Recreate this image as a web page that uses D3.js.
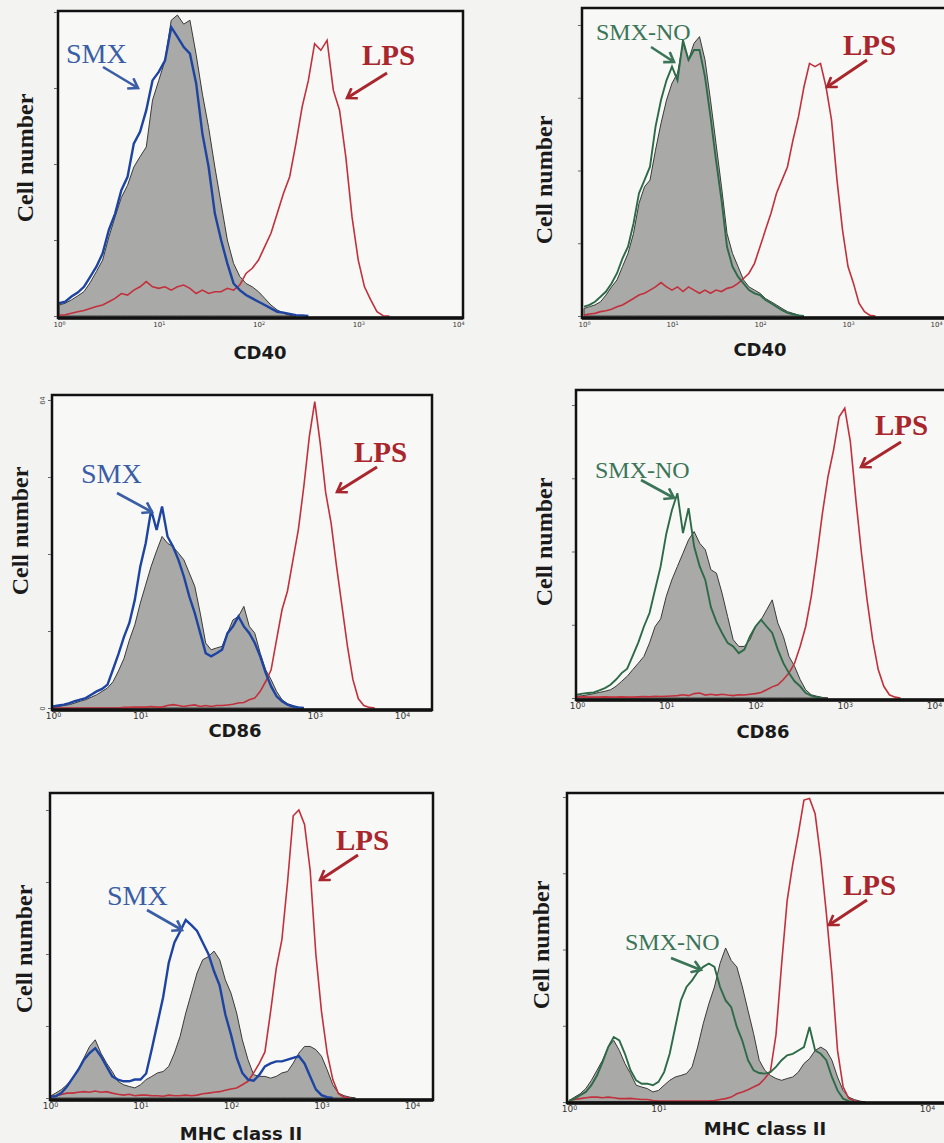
<!DOCTYPE html>
<html>
<head>
<meta charset="utf-8">
<script src="https://cdn.jsdelivr.net/npm/d3@7"></script>
<style>
    body { margin: 0; background: #f3f3f1; }
    svg { display: block; }
</style>
</head>
<body>
<svg id="chart" width="944" height="1143"></svg>
<script>
// flow cytometry histograms, 16 channels per decade starting at 10^0
// values are % of the panel's full scale
const binsPerDecade = 16;
const allTicks = [1, 10, 100, 1000, 10000];

// CD40 - SMX experiment
const cd40Control = [3.6, 4.2, 5.3, 6.6, 8, 11, 14.6, 18.4, 26, 32.6, 39, 43, 49, 52.4, 55.6, 71, 77.5, 84, 97.3, 99, 96, 97.3, 86, 73, 62, 49, 37, 25, 17.3, 13, 10.7, 9.6, 8, 5.8, 3.6, 2, 0.9, 0.2, 0];
const cd40Smx = [4.2, 4.7, 6.4, 7.7, 9.6, 12.9, 16.2, 20.6, 28.3, 33.7, 41.4, 45.8, 56.7, 60.6, 67.7, 77.5, 80.3, 84, 95, 91.8, 88.5, 86.3, 76.5, 60, 49, 33.7, 25, 17.3, 10.7, 8.5, 6.9, 5.8, 4.7, 3.6, 2.5, 1.4, 1.1, 0.7, 0.3, 0.2, 0];
const cd40Lps = [0.3, 0.4, 0.9, 1.4, 1.8, 2.5, 3.1, 3.6, 4.7, 5.8, 7.4, 6.9, 8.5, 9.6, 11.3, 9.6, 9.1, 9.6, 8.5, 9.6, 10.2, 9.1, 7.4, 8.5, 7.4, 8, 8, 9.1, 8.5, 10.2, 14, 15.7, 18.4, 22.8, 27.2, 33.7, 40.3, 45.8, 56.7, 68.8, 77.5, 89.6, 87.4, 90.7, 74.3, 67.7, 52.4, 32.6, 18.4, 9.6, 5.3, 1.4, 0.1, 0];

// CD40 - SMX-NO experiment
const cd40ControlNo = [2.6, 3.2, 3.8, 4.9, 7.2, 10, 12.4, 17, 21.5, 28.4, 38.7, 44.4, 46.7, 57, 66.2, 74.2, 80, 83.4, 93.7, 88, 93.7, 96, 88, 74.2, 59.3, 44.4, 28.4, 21.5, 17, 12.4, 10, 8.9, 7.8, 6, 4.9, 3.8, 2.6, 1.5, 0.9, 0.3, 0];
const cd40SmxNo = [3.2, 3.8, 4.9, 6.6, 8.4, 11.2, 14.7, 19.8, 23.8, 31.8, 42.2, 46.7, 51.3, 65, 74.2, 81, 85.7, 81, 94.8, 88, 91.4, 91.4, 82.2, 68.5, 53.6, 39.9, 23.8, 17, 13.5, 11.2, 8.9, 7.8, 7.2, 5.5, 4.4, 3.2, 2, 1.1, 0.6, 0.2, 0];
const cd40LpsNo = [0.3, 0.7, 0.9, 1.5, 1.8, 2.3, 3.2, 3.8, 4.9, 6, 7.2, 7.8, 8.9, 10, 11.5, 10, 8.9, 10, 8.4, 10, 8.9, 7.8, 8.9, 7.8, 8.9, 8.4, 9.5, 10, 11.2, 12.9, 14.7, 18.1, 23.8, 29.6, 35.3, 42.2, 46.7, 51.3, 60.5, 68.5, 78.8, 86.8, 85.7, 86.8, 78.8, 67.4, 46.7, 29.6, 17, 11.2, 4.4, 1.5, 0.2, 0];

// CD86 - SMX experiment
const cd86Control = [0.3, 0.5, 0.8, 1.1, 1.6, 2.2, 2.7, 3.5, 4.3, 5.4, 6.5, 8.5, 12, 16, 22, 27, 34, 40, 46, 51, 55.7, 53.5, 52.4, 50.3, 48.1, 43.8, 39.5, 30.8, 21.1, 18.9, 19.5, 20, 24.3, 28.6, 29.7, 33, 26.5, 24.3, 17.8, 12.4, 9.2, 5.4, 2.7, 1.4, 0.8, 0.2, 0];
const cd86Smx = [0.5, 0.8, 1.1, 1.6, 2.2, 2.7, 3.2, 4.3, 5.4, 6.2, 7.6, 12.5, 17.5, 23, 27.6, 35.1, 45.9, 53.5, 64.3, 57.8, 65.4, 55.7, 52.4, 48.1, 42.7, 36.2, 30.8, 24.3, 17.8, 16.8, 17.8, 18.9, 24.3, 26.5, 29.7, 26.5, 24.3, 21.1, 16.8, 11.4, 7, 3.8, 2.2, 1.1, 0.5, 0.2, 0];
const cd86Lps = [0, 0, 0, 0, 0, 0, 0, 0, 0, 0, 0, 0, 0, 0.2, 0.2, 0.3, 0.3, 0.3, 0.5, 0.3, 0.3, 0.8, 1.1, 0.8, 0.5, 0.8, 1, 0.5, 0.8, 0.5, 0.8, 0.8, 1, 1.2, 1.6, 1.8, 2.7, 3.2, 5.4, 8.6, 12.4, 22.2, 31.9, 38, 48, 58, 72, 88, 99.5, 86, 70, 60, 46, 33, 20, 9.2, 3, 0.8, 0.2, 0];

// CD86 - SMX-NO experiment
const cd86ControlNo = [0.6, 0.8, 1.1, 1.5, 1.9, 2.3, 2.8, 4, 5.7, 7.4, 9.7, 11.9, 14.2, 18.8, 24.4, 27, 34.7, 40.3, 44.9, 49.4, 54, 56.8, 52.8, 50.6, 43.8, 42.6, 35.8, 27.8, 19.9, 17.6, 17.6, 19.9, 24.4, 26.7, 30.1, 33.5, 25.6, 21, 14.2, 10.8, 6.3, 2.8, 1.1, 0.6, 0.2, 0];
const cd86SmxNo = [1.1, 1.5, 1.7, 1.9, 2.6, 3.4, 4.5, 6.3, 8.5, 10, 14.5, 19, 24.4, 29, 37, 45, 56, 64, 69.9, 56.3, 64.8, 51.7, 44.9, 40.3, 31, 26, 22.2, 18.8, 17.6, 15.3, 16.5, 21, 24.4, 26.7, 24.4, 22.2, 16.5, 11.9, 8.5, 5.7, 4, 1.7, 0.8, 0.2, 0];
const cd86LpsNo = [0.4, 0.4, 0.3, 0.3, 0.3, 0.4, 0.3, 0.3, 0.4, 0.3, 0.3, 0.4, 0.5, 0.4, 0.6, 0.5, 0.6, 0.7, 0.8, 1.1, 0.8, 1.5, 1.7, 1, 1.3, 1, 1.3, 1, 0.8, 1.1, 1, 1.3, 1.5, 1.9, 2.8, 3.8, 4.5, 6.3, 8.5, 11.9, 17.6, 24.4, 34.7, 48.3, 63.1, 75.6, 84.7, 96, 98.9, 87.5, 67.6, 49.4, 33.5, 19.9, 9.7, 4, 1.1, 0.3, 0];

// MHC class II - SMX experiment
const mhcControl = [0.6, 1.7, 2.9, 4.6, 6.9, 9.8, 13.9, 17.9, 20.2, 15.6, 12.1, 9.2, 5.8, 4.6, 4, 3.5, 4.6, 6.4, 7.5, 8.7, 9.2, 11, 15.6, 21.4, 29.5, 36.4, 43.4, 48, 49.1, 51, 48, 41, 36.4, 29.5, 20.2, 13.3, 8.1, 7.5, 7.5, 6.9, 7.5, 8.7, 9.2, 12.1, 15.6, 17.9, 17.9, 16.8, 14.5, 9.8, 4.6, 1.7, 0.8, 0.3, 0];
const mhcSmx = [0.5, 0.6, 1.7, 4, 6.9, 9.8, 13.3, 15.6, 17.3, 14.5, 11, 7.5, 6.4, 5.8, 5.8, 6.4, 6.4, 8.5, 17, 26, 35, 47, 54, 57.8, 61.8, 60, 58, 54, 50, 44, 39, 29, 22, 14, 8.7, 6.4, 6, 8, 11, 12, 12.7, 12.7, 13.3, 13.9, 14.5, 12, 7.5, 3, 1, 0.3, 0];
const mhcLps = [0.3, 0.8, 1.2, 1.7, 1.7, 2, 2.2, 2, 2.4, 2, 2.2, 1.7, 1.3, 1, 1.3, 0.8, 1, 1, 0.8, 0.8, 0.6, 1, 0.8, 0.8, 1, 0.8, 1, 1.5, 1.7, 2, 2.2, 2.7, 3.1, 3.5, 4.6, 5.8, 8.7, 12, 16, 30, 45, 55, 75, 98, 100, 95, 79, 50, 30, 15.6, 6.4, 1.5, 0.3, 0];

// MHC class II - SMX-NO experiment
const mhcControlNo = [0.5, 1.6, 2.7, 4.4, 7.1, 10.4, 13.7, 18, 20.2, 16.9, 12.6, 9.3, 5.5, 4.9, 4.4, 3.3, 3.8, 5.5, 7.1, 8.2, 8.7, 9.3, 11.5, 18, 25.7, 32.2, 37.7, 45.4, 50.5, 46.4, 44.3, 37.7, 30, 22.4, 13.7, 10.4, 8.7, 7.7, 7.1, 7.7, 8.2, 9.8, 12.6, 14.2, 16.9, 18, 16.9, 13.7, 8.2, 3.8, 1.6, 0.8, 0.3, 0];
const mhcSmxNo = [0.3, 1.1, 2.2, 3.3, 5.5, 8.7, 13.1, 18, 21.3, 20.2, 15.8, 10.4, 7.1, 6, 6, 5.5, 6.6, 9.8, 15.8, 24.6, 33.3, 37.7, 39.9, 42.6, 44.3, 45.4, 44.3, 37.7, 33.3, 31.1, 24.6, 20, 13.7, 10.4, 9.5, 9.3, 9.8, 11.5, 13.7, 15.3, 15.8, 16.9, 18, 24.6, 16.9, 15.8, 13.7, 8.2, 3.8, 1.1, 0.3, 0];
const mhcLpsNo = [0.5, 0.8, 1.1, 1.4, 1.6, 1.6, 1.4, 1.6, 1.4, 1.1, 1.1, 1.2, 1, 0.8, 0.8, 0.5, 0.3, 0.3, 0.3, 0.3, 0.3, 0.3, 0.3, 0.3, 0.3, 0.3, 0.5, 0.8, 1.1, 1.6, 2.7, 3.3, 4, 4.9, 5.8, 7.7, 10, 22, 45, 66, 78, 88, 99, 99.5, 94.5, 80, 62, 42, 17, 5, 1.2, 0.3, 0];

const drugColors = {
    "SMX": {text: "#3a5ea6", line: "#1e44a2"},
    "SMX-NO": {text: "#3b7558", line: "#2d6a47"}
};
const lpsColor = {text: "#a8262c", line: "#c2303c"};

const panels = [
    {ctrl: cd40Control, drug: cd40Smx, lps: cd40Lps, drugName: "SMX", marker: "CD40", ticks: allTicks,
        frame: [58, 11, 463, 318], xr: [59, 458], yr: [316, 12], tickFont: 7, tickPad: 3,
        markerPos: [260, 359], cellPos: [33, 158],
        drugText: [66, 63], drugArrow: [[103, 67], [138, 88]], lpsText: [362, 65], lpsArrow: [[387, 73], [347, 98]]},
    {ctrl: cd40ControlNo, drug: cd40SmxNo, lps: cd40LpsNo, drugName: "SMX-NO", marker: "CD40", ticks: allTicks,
        frame: [582, 8, 950, 318], xr: [584, 936], yr: [316, 25], tickFont: 7, tickPad: 3,
        markerPos: [760, 356], cellPos: [552, 180],
        drugText: [596, 40], drugArrow: [[651, 47], [674, 62]], lpsText: [843, 55], lpsArrow: [[867, 60], [827, 87]]},
    {ctrl: cd86Control, drug: cd86Smx, lps: cd86Lps, drugName: "SMX", marker: "CD86", ticks: [1, 10, 1000, 10000],
        frame: [52, 395, 432, 710], xr: [53, 402], yr: [708, 400], tickFont: 9, tickPad: 2,
        markerPos: [235, 737], cellPos: [28, 531], yLabels: true,
        drugText: [81, 483], drugArrow: [[117, 493], [152, 512]], lpsText: [354, 462], lpsArrow: [[377, 467], [337, 492]]},
    {ctrl: cd86ControlNo, drug: cd86SmxNo, lps: cd86LpsNo, drugName: "SMX-NO", marker: "CD86", ticks: allTicks,
        frame: [576, 390, 950, 700], xr: [577, 934], yr: [698, 405], tickFont: 9, tickPad: 2,
        markerPos: [763, 738], cellPos: [552, 542],
        drugText: [595, 478], drugArrow: [[641, 480], [674, 498]], lpsText: [875, 435], lpsArrow: [[901, 442], [861, 467]]},
    {ctrl: mhcControl, drug: mhcSmx, lps: mhcLps, drugName: "SMX", marker: "MHC class II", ticks: allTicks,
        frame: [50, 793, 433, 1100], xr: [50, 412], yr: [1098, 810], tickFont: 9, tickPad: 2,
        markerPos: [241, 1140], cellPos: [32, 949],
        drugText: [107, 905], drugArrow: [[147, 910], [182, 930]], lpsText: [336, 850], lpsArrow: [[358, 855], [320, 880]]},
    {ctrl: mhcControlNo, drug: mhcSmxNo, lps: mhcLpsNo, drugName: "SMX-NO", marker: "MHC class II", ticks: [1, 10, 10000],
        frame: [567, 793, 950, 1103], xr: [569, 927], yr: [1102, 797], tickFont: 9, tickPad: 2,
        markerPos: [765, 1135], cellPos: [549, 945],
        drugText: [625, 950], drugArrow: [[671, 958], [701, 970]], lpsText: [843, 895], lpsArrow: [[867, 900], [829, 925]]}
];

const svg = d3.select("#chart");
const defs = svg.append("defs");

svg.append("rect").attr("width", 944).attr("height", 1143).attr("fill", "#f3f3f1");

// open arrow heads
[["SMX", drugColors["SMX"].text], ["SMX-NO", drugColors["SMX-NO"].text], ["LPS", lpsColor.text]].forEach(([name, c]) =>
{
    defs.append("marker")
        .attr("id", "arrow-" + name)
        .attr("markerUnits", "userSpaceOnUse")
        .attr("markerWidth", 14)
        .attr("markerHeight", 14)
        .attr("refX", 11)
        .attr("refY", 7)
        .attr("orient", "auto")
        .append("path")
        .attr("d", "M2,1 L11,7 L2,13")
        .attr("fill", "none")
        .attr("stroke", c)
        .attr("stroke-width", 2.6);
});

function drawPanel(p, k)
{
    const g = svg.append("g");
    const [fl, ft, fr, fb] = p.frame;

    const x = d3.scaleLog().domain([1, 10000]).range(p.xr);
    const y = d3.scaleLinear().domain([0, 100]).range(p.yr);
    const xOf = (d, i) => x(Math.pow(10, i / binsPerDecade));

    defs.append("clipPath").attr("id", "clip" + k)
        .append("rect")
        .attr("x", fl).attr("y", ft)
        .attr("width", fr - fl).attr("height", fb - ft);

    g.append("rect")
        .attr("x", fl).attr("y", ft)
        .attr("width", fr - fl).attr("height", fb - ft)
        .attr("fill", "#f8f8f6");

    const plot = g.append("g").attr("clip-path", `url(#clip${k})`);

    const area = d3.area().x(xOf).y0(y(0)).y1(d => y(d));
    const line = d3.line().x(xOf).y(d => y(d));

    plot.append("path")
        .datum(p.ctrl)
        .attr("d", area)
        .attr("fill", "#a9a9a7")
        .attr("stroke", "#3a3a3a")
        .attr("stroke-width", 1);

    plot.append("path")
        .datum(p.lps)
        .attr("d", line)
        .attr("fill", "none")
        .attr("stroke", lpsColor.line)
        .attr("stroke-width", 1.6);

    plot.append("path")
        .datum(p.drug)
        .attr("d", line)
        .attr("fill", "none")
        .attr("stroke", drugColors[p.drugName].line)
        .attr("stroke-width", p.drugName === "SMX" ? 2.4 : 1.9);

    // frame
    g.append("rect")
        .attr("x", fl).attr("y", ft)
        .attr("width", fr - fl).attr("height", fb - ft)
        .attr("fill", "none")
        .attr("stroke", "#111")
        .attr("stroke-width", 2.5);
    g.append("line")
        .attr("x1", fl).attr("x2", fr)
        .attr("y1", fb).attr("y2", fb)
        .attr("stroke", "#111")
        .attr("stroke-width", 3.5);

    // log x axis, labels written as 10 with a raised exponent
    const xAxis = d3.axisBottom(x).tickValues(p.ticks).tickSize(0).tickPadding(p.tickPad);
    const ax = g.append("g")
        .attr("transform", `translate(0,${fb + 1})`)
        .call(xAxis)
        .attr("font-family", "DejaVu Sans, sans-serif");
    ax.select(".domain").remove();
    ax.selectAll(".tick text")
        .attr("font-size", p.tickFont)
        .attr("fill", "#333")
        .text("10")
        .append("tspan")
        .attr("dy", "-0.4em")
        .attr("font-size", p.tickFont * 0.7)
        .text(d => Math.round(Math.log10(d)));

    // small ticks on the count axis
    const yAxis = d3.axisLeft(y).tickValues([0, 25, 50, 75, 100]).tickSize(3).tickPadding(2)
        .tickFormat(d => p.yLabels && (d === 0 || d === 100) ? (d === 0 ? "0" : "64") : "");
    const ay = g.append("g")
        .attr("transform", `translate(${fl - 1},0)`)
        .call(yAxis);
    ay.select(".domain").remove();
    ay.selectAll(".tick line").attr("stroke", "#666");
    ay.selectAll(".tick text")
        .attr("font-size", 7)
        .attr("fill", "#444")
        .attr("text-anchor", "middle")
        .attr("transform", "rotate(-90)")
        .attr("x", 0)
        .attr("dy", 0)
        .attr("y", -6);

    g.append("text")
        .attr("x", p.markerPos[0])
        .attr("y", p.markerPos[1])
        .attr("text-anchor", "middle")
        .attr("font-family", "DejaVu Sans, sans-serif")
        .attr("font-weight", "bold")
        .attr("font-size", 18)
        .attr("fill", "#1a1a1a")
        .text(p.marker);

    g.append("text")
        .attr("transform", `translate(${p.cellPos[0]},${p.cellPos[1]}) rotate(-90)`)
        .attr("text-anchor", "middle")
        .attr("font-family", "Liberation Serif, serif")
        .attr("font-weight", "bold")
        .attr("font-size", 24)
        .attr("fill", "#1a1a1a")
        .text("Cell number");

    // annotations
    const dc = drugColors[p.drugName];
    g.append("text")
        .attr("x", p.drugText[0])
        .attr("y", p.drugText[1])
        .attr("font-family", "Liberation Serif, serif")
        .attr("font-size", p.drugName === "SMX" ? 28 : 24)
        .attr("fill", dc.text)
        .text(p.drugName);
    g.append("line")
        .attr("x1", p.drugArrow[0][0]).attr("y1", p.drugArrow[0][1])
        .attr("x2", p.drugArrow[1][0]).attr("y2", p.drugArrow[1][1])
        .attr("stroke", dc.text)
        .attr("stroke-width", 2.6)
        .attr("marker-end", `url(#arrow-${p.drugName})`);

    g.append("text")
        .attr("x", p.lpsText[0])
        .attr("y", p.lpsText[1])
        .attr("font-family", "Liberation Serif, serif")
        .attr("font-weight", "bold")
        .attr("font-size", 29)
        .attr("fill", lpsColor.text)
        .text("LPS");
    g.append("line")
        .attr("x1", p.lpsArrow[0][0]).attr("y1", p.lpsArrow[0][1])
        .attr("x2", p.lpsArrow[1][0]).attr("y2", p.lpsArrow[1][1])
        .attr("stroke", lpsColor.text)
        .attr("stroke-width", 3)
        .attr("marker-end", "url(#arrow-LPS)");
}

panels.forEach((p, k) => drawPanel(p, k));
</script>
</body>
</html>
